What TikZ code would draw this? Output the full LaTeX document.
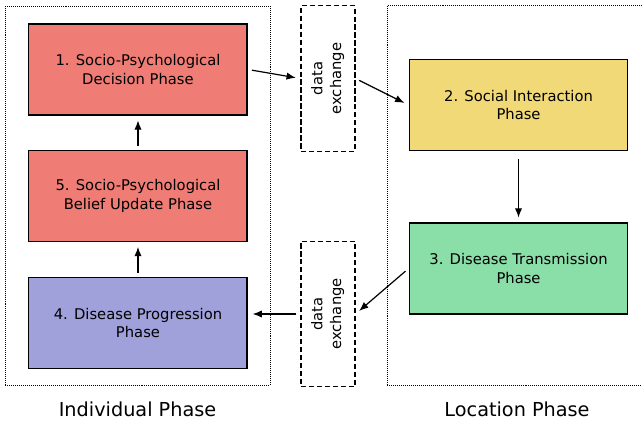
\documentclass[tikz,border=0pt]{standalone}
\usepackage{fontspec}
\setmainfont{DejaVu Sans}
\usepackage{xcolor}
\definecolor{phred}{RGB}{240,124,118}
\definecolor{phyellow}{RGB}{240,217,118}
\definecolor{phgreen}{RGB}{138,222,168}
\definecolor{phblue}{RGB}{160,160,218}
\usetikzlibrary{positioning, arrows.meta}
\newcommand{\sidetext}[1]{\rotatebox{90}{\begin{tabular}{@{}c@{}}#1\end{tabular}}}

\begin{document}
\begin{tikzpicture}[
    % GLOBAL CFG
    font=\fontsize{11.1}{14}\selectfont,
    >={Latex[length=7pt,width=5.5pt]},
    % Styles
    phase/.style={% For the coloured phase boxes
        rectangle,
        draw,
        line width=1.1pt,
        minimum width=5.78cm,
        minimum height=2.41cm,
        align=center,
        },
    exchange/.style={% For the data exchange boxes
        rectangle,
        draw,
        line width=0.8pt,
        dash pattern=on 4pt off 2pt,
        minimum width=1.43cm,
        minimum height=3.84cm,
        },
    group/.style={% For the dotted phase groups
        rectangle,
        draw,
        line width=0.5pt,
        dash pattern=on 0.5pt off 1pt,
        },
    grouplabel/.style={% Text under the groups
        font=\fontsize{14.5}{17}\selectfont,
        anchor=base,
        },
    ArrowC1/.style={% Plain arrows
        ->,
        line width=0.9pt,
        shorten <=3pt,
        shorten >=3.5pt,
        },
    ]

    \useasboundingbox (0,0) rectangle (16.986,11.1125);

    % Draw the groups
    \node [group, minimum width=7.011cm, minimum height=10.028cm] (indiv) at (3.638,5.940) {};
    \node [group, minimum width=6.879cm, minimum height=10.054cm] (locat) at (13.679,5.953) {};
    \node [grouplabel] (indivlabel) at (3.638,0.106) {Individual Phase};
    \node [grouplabel] (locatlabel) at (13.679,0.106) {Location Phase};

    % Draw phases named box#
    \node [phase, fill=phred] (box1) at (3.651,9.274) {1. Socio-Psychological\\Decision Phase};
    \node [phase, fill=phyellow] (box2) at (13.719,8.334) {2. Social Interaction\\Phase};
    \node [phase, fill=phgreen] (box3) at (13.719,4.008) {3. Disease Transmission\\Phase};
    \node [phase, fill=phblue] (box4) at (3.651,2.566) {4. Disease Progression\\Phase};
    \node [phase, fill=phred] (box5) at (3.651,5.927) {5. Socio-Psychological\\Belief Update Phase};

    % Draw data exchanges named dx#
    \node [exchange] (dx1) at (8.678,9.035) {\sidetext{data\\exchange}};
    \node [exchange] (dx2) at (8.678,2.805) {\sidetext{data\\exchange}};

    % Connect all
    \draw [ArrowC1] (box1.east) -- (dx1.west);
    \draw [ArrowC1] (dx1.east) -- (box2.west);
    \draw [ArrowC1, shorten <=6pt] (box2) -- (box3);
    \draw [ArrowC1] (box3.west) -- (dx2.east);
    \draw [ArrowC1] (dx2.west) -- (dx2.west -| box4.east);
    \draw [ArrowC1] (box4) -- (box5);
    \draw [ArrowC1] (box5) -- (box1);

\end{tikzpicture}
\end{document}
